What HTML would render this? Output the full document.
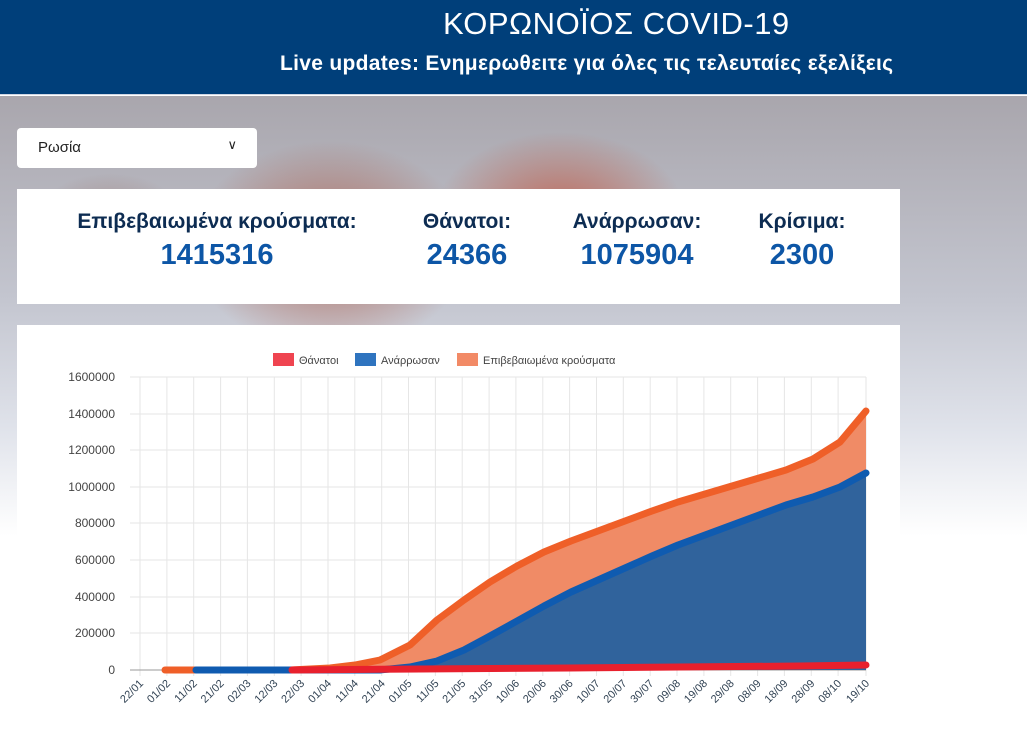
<!DOCTYPE html>
<html><head><meta charset="utf-8"><style>
*{margin:0;padding:0;box-sizing:border-box}
body{width:1027px;height:734px;overflow:hidden;position:relative;font-family:"Liberation Sans","DejaVu Sans",sans-serif;background:#fff}
.bg{position:absolute;left:0;top:96px;width:1027px;height:638px;
background:
radial-gradient(ellipse 180px 120px at 560px 120px,rgba(190,90,70,.85),rgba(190,90,70,0) 70%),
radial-gradient(ellipse 200px 150px at 330px 150px,rgba(170,85,65,.8),rgba(170,85,65,0) 70%),
radial-gradient(ellipse 120px 90px at 110px 140px,rgba(150,110,100,.7),rgba(150,110,100,0) 70%),
radial-gradient(ellipse 60px 40px at 740px 150px,rgba(90,90,170,.8),rgba(90,90,170,0) 70%),
radial-gradient(ellipse 40px 30px at 745px 120px,rgba(230,120,180,.8),rgba(230,120,180,0) 70%),
radial-gradient(ellipse 50px 30px at 470px 140px,rgba(90,170,140,.8),rgba(90,170,140,0) 70%),
radial-gradient(ellipse 60px 30px at 180px 185px,rgba(90,170,140,.7),rgba(90,170,140,0) 70%),
linear-gradient(to bottom,#a9a6ad 0px,#c3c5cf 200px,#dfe2ea 330px,#fff 440px)}
.hdr{position:absolute;left:0;top:0;width:1027px;height:95px;background:#003f7a;color:#fff;border-bottom:1px solid #cfd6e4}
.t1{position:absolute;left:443px;top:6px;font-size:31px;letter-spacing:0.5px}
.t2{position:absolute;left:280px;top:52px;font-size:21px;font-weight:bold;letter-spacing:0.3px}
.sel{position:absolute;left:17px;top:128px;width:240px;height:40px;background:#fff;border-radius:4px;font-size:15px;color:#222;padding:11px 21px}
.sel span{position:absolute;right:20px;top:9px;font-size:13px}
.card{position:absolute;left:17px;top:189px;width:883px;height:115px;background:#fff}
.st{position:absolute;top:21px;text-align:center;color:#0d2c52;font-size:21px;font-weight:bold;white-space:nowrap}
.st b{display:block;color:#0d56a6;font-size:29px;margin-top:5px}
.chart{position:absolute;left:17px;top:325px;width:883px;height:420px;background:#fff}
svg{position:absolute;left:0;top:0}
</style></head><body>
<div class="bg"></div>
<div class="hdr"><div class="t1">ΚΟΡΩΝΟΪΟΣ COVID-19</div><div class="t2">Live updates: Ενημερωθειτε για όλες τις τελευταίες εξελίξεις</div></div>
<div class="sel">Ρωσία<span>∨</span></div>
<div class="card">
<div class="st" style="left:45px;width:310px">Επιβεβαιωμένα κρούσματα:<b>1415316</b></div>
<div class="st" style="left:395px;width:110px">Θάνατοι:<b>24366</b></div>
<div class="st" style="left:545px;width:150px">Ανάρρωσαν:<b>1075904</b></div>
<div class="st" style="left:735px;width:100px">Κρίσιμα:<b>2300</b></div>
</div>
<div class="chart"></div>
<svg width="1027" height="734" font-family="Liberation Sans, DejaVu Sans, sans-serif">
<g stroke="#e6e6e6" stroke-width="1">
<line x1="130" y1="377" x2="866" y2="377"/><line x1="130" y1="414" x2="866" y2="414"/><line x1="130" y1="450" x2="866" y2="450"/><line x1="130" y1="487" x2="866" y2="487"/><line x1="130" y1="523" x2="866" y2="523"/><line x1="130" y1="560" x2="866" y2="560"/><line x1="130" y1="597" x2="866" y2="597"/><line x1="130" y1="633" x2="866" y2="633"/>
<line x1="140" y1="377" x2="140" y2="676"/><line x1="166.9" y1="377" x2="166.9" y2="676"/><line x1="193.7" y1="377" x2="193.7" y2="676"/><line x1="220.6" y1="377" x2="220.6" y2="676"/><line x1="247.4" y1="377" x2="247.4" y2="676"/><line x1="274.3" y1="377" x2="274.3" y2="676"/><line x1="301.1" y1="377" x2="301.1" y2="676"/><line x1="328" y1="377" x2="328" y2="676"/><line x1="354.8" y1="377" x2="354.8" y2="676"/><line x1="381.7" y1="377" x2="381.7" y2="676"/><line x1="408.5" y1="377" x2="408.5" y2="676"/><line x1="435.4" y1="377" x2="435.4" y2="676"/><line x1="462.2" y1="377" x2="462.2" y2="676"/><line x1="489.1" y1="377" x2="489.1" y2="676"/><line x1="515.9" y1="377" x2="515.9" y2="676"/><line x1="542.8" y1="377" x2="542.8" y2="676"/><line x1="569.6" y1="377" x2="569.6" y2="676"/><line x1="596.5" y1="377" x2="596.5" y2="676"/><line x1="623.3" y1="377" x2="623.3" y2="676"/><line x1="650.2" y1="377" x2="650.2" y2="676"/><line x1="677" y1="377" x2="677" y2="676"/><line x1="703.9" y1="377" x2="703.9" y2="676"/><line x1="730.7" y1="377" x2="730.7" y2="676"/><line x1="757.6" y1="377" x2="757.6" y2="676"/><line x1="784.4" y1="377" x2="784.4" y2="676"/><line x1="811.3" y1="377" x2="811.3" y2="676"/><line x1="838.1" y1="377" x2="838.1" y2="676"/><line x1="866" y1="377" x2="866" y2="676"/>
</g>
<line x1="130" y1="670" x2="866" y2="670" stroke="#999"/>
<g font-size="12" fill="#444" text-anchor="end">
<text x="115" y="381">1600000</text><text x="115" y="418">1400000</text><text x="115" y="454">1200000</text><text x="115" y="491">1000000</text><text x="115" y="527">800000</text><text x="115" y="564">600000</text><text x="115" y="601">400000</text><text x="115" y="637">200000</text><text x="115" y="674">0</text>
</g>
<g font-size="11" fill="#345" text-anchor="end">
<text transform="translate(144,684) rotate(-45)">22/01</text>
<text transform="translate(170.9,684) rotate(-45)">01/02</text>
<text transform="translate(197.7,684) rotate(-45)">11/02</text>
<text transform="translate(224.6,684) rotate(-45)">21/02</text>
<text transform="translate(251.4,684) rotate(-45)">02/03</text>
<text transform="translate(278.3,684) rotate(-45)">12/03</text>
<text transform="translate(305.1,684) rotate(-45)">22/03</text>
<text transform="translate(332,684) rotate(-45)">01/04</text>
<text transform="translate(358.8,684) rotate(-45)">11/04</text>
<text transform="translate(385.7,684) rotate(-45)">21/04</text>
<text transform="translate(412.5,684) rotate(-45)">01/05</text>
<text transform="translate(439.4,684) rotate(-45)">11/05</text>
<text transform="translate(466.2,684) rotate(-45)">21/05</text>
<text transform="translate(493.1,684) rotate(-45)">31/05</text>
<text transform="translate(519.9,684) rotate(-45)">10/06</text>
<text transform="translate(546.8,684) rotate(-45)">20/06</text>
<text transform="translate(573.6,684) rotate(-45)">30/06</text>
<text transform="translate(600.5,684) rotate(-45)">10/07</text>
<text transform="translate(627.3,684) rotate(-45)">20/07</text>
<text transform="translate(654.2,684) rotate(-45)">30/07</text>
<text transform="translate(681,684) rotate(-45)">09/08</text>
<text transform="translate(707.9,684) rotate(-45)">19/08</text>
<text transform="translate(734.7,684) rotate(-45)">29/08</text>
<text transform="translate(761.6,684) rotate(-45)">08/09</text>
<text transform="translate(788.4,684) rotate(-45)">18/09</text>
<text transform="translate(815.3,684) rotate(-45)">28/09</text>
<text transform="translate(842.1,684) rotate(-45)">08/10</text>
<text transform="translate(870,684) rotate(-45)">19/10</text>
</g>
<polygon fill="#f08b66" points="290,670 330,668 355,665 380,660 410,645 437,620 464,600 490,582 517,566 544,552 571,541 598,531 625,521 652,511 678,502 705,494 732,486 759,478 786,470 813,459 840,442 866,411 866,670"/>
<polygon fill="#30639c" points="380,670 410,667 437,661 464,650 490,636 517,621 544,606 571,592 598,580 625,568 652,556 678,545 705,535 732,525 759,515 786,505 813,497 840,487 866,473 866,670"/>
<g fill="none" stroke-width="7" stroke-linecap="round" stroke-linejoin="round">
<polyline stroke="#ef5f28" points="165,670 290,670 330,668 355,665 380,660 410,645 437,620 464,600 490,582 517,566 544,552 571,541 598,531 625,521 652,511 678,502 705,494 732,486 759,478 786,470 813,459 840,442 866,411"/>
<polyline stroke="#0f5bb0" points="196,670 380,670 410,667 437,661 464,650 490,636 517,621 544,606 571,592 598,580 625,568 652,556 678,545 705,535 732,525 759,515 786,505 813,497 840,487 866,473"/>
<polyline stroke="#e8202d" points="292,670 420,669 570,668 680,667 800,666 866,665"/>
</g>
<g font-size="11" fill="#444">
<rect x="273" y="353" width="21" height="13" fill="#ef4450"/><text x="299" y="364">Θάνατοι</text>
<rect x="355" y="353" width="21" height="13" fill="#2f74bf"/><text x="381" y="364">Ανάρρωσαν</text>
<rect x="457" y="353" width="21" height="13" fill="#f28a66"/><text x="483" y="364">Επιβεβαιωμένα κρούσματα</text>
</g>
</svg>
</body></html>
